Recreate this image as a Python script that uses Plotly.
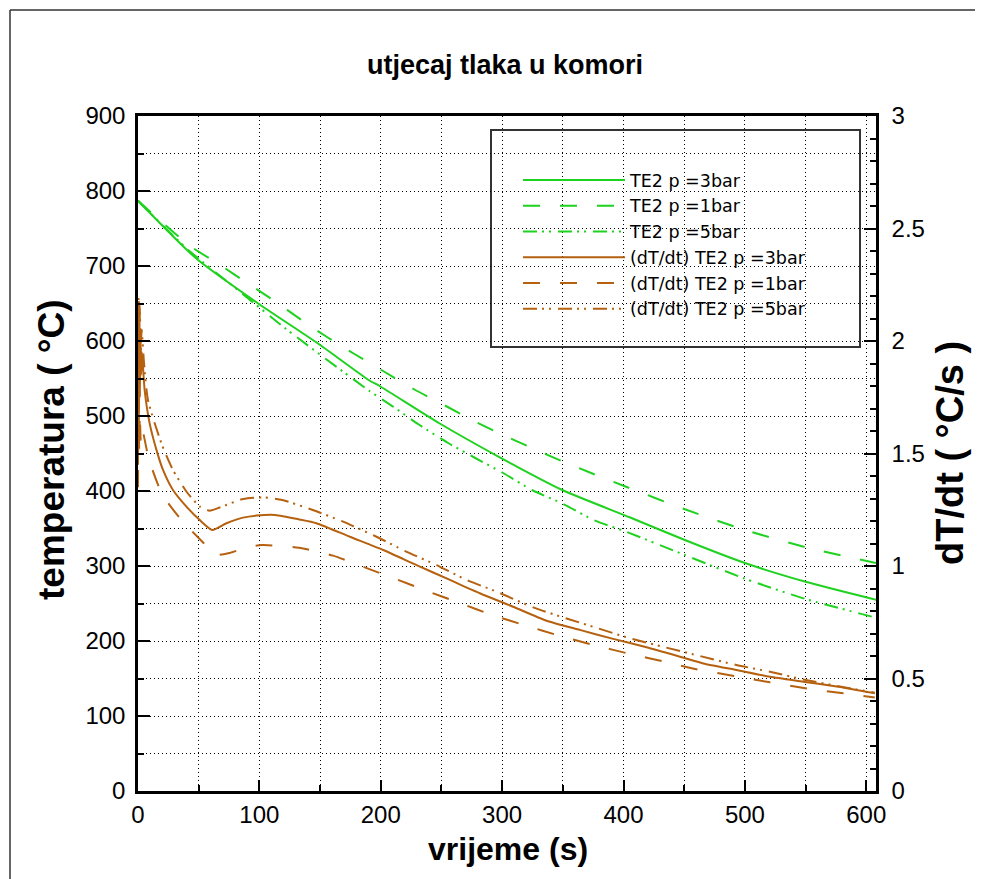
import plotly.graph_objects as go

# ---------------- data ----------------
# Temperature, TE2 (left axis, °C)
t_T3 = [0, 48, 99, 148, 191, 199, 248.6, 299.5, 350, 405, 450, 500, 550, 608]
T_3 = [787, 710, 650, 597, 547, 540, 490, 443.6, 401, 365, 335, 304, 279, 255]

t_T1 = [0, 20, 42.6, 68, 89.3, 111, 134.7, 156, 179, 204, 227, 251.7, 276, 299,
        323.6, 349, 374.8, 400, 450, 500, 550, 608]
T_1 = [787, 758, 727, 701, 678, 655, 628, 605, 582, 558, 536, 515, 494, 476,
       458, 440, 423, 407, 376, 348, 325, 304]

t_T5 = [0, 41, 83, 122.8, 169, 191, 210.7, 231, 255.5, 276.7, 300.8, 325, 350,
        375.8, 400, 450, 500, 550, 608]
T_5 = [787, 722, 667, 615, 559, 533, 512, 489, 464, 445, 424, 401, 383,
       361, 347, 315, 283, 256, 231]

# dT/dt, TE2 (right axis, °C/s)
t_D3 = [0, 0.4, 0.8, 1.2, 1.6, 2.0, 2.5, 3.2, 5.5, 9.6, 15.2, 20.6, 28.8, 39.9,
        50.9, 61.3, 72.9, 86.5, 97.6, 113, 133, 147, 174.5, 202, 229.5, 257,
        281.6, 309, 336.6, 364, 391.5, 419, 446.5, 465.7, 493, 520.6, 548,
        575.6, 607]
D_3 = [1.45, 2.1, 1.6, 2.17, 1.75, 2.05, 1.85, 1.95, 1.78, 1.634, 1.516, 1.427,
       1.338, 1.264, 1.204, 1.16, 1.19, 1.215, 1.224, 1.227, 1.207, 1.19, 1.13,
       1.071, 1.004, 0.938, 0.879, 0.819, 0.757, 0.716, 0.676, 0.639, 0.597,
       0.567, 0.538, 0.508, 0.486, 0.464, 0.434]

t_D1 = [0, 0.5, 1, 1.5, 2.2, 3, 8.8, 19.8, 35.8, 53, 64, 75.6, 88, 102, 132.5,
        160.7, 186.8, 213, 238.5, 265.7, 292, 319, 347.8, 376.7, 404.7, 433.8,
        460, 491.8, 520.6, 551, 581, 607]
D_1 = [1.35, 1.72, 1.5, 1.68, 1.56, 1.62, 1.479, 1.32, 1.204, 1.108, 1.05,
       1.058, 1.08, 1.093, 1.081, 1.046, 0.994, 0.941, 0.888, 0.834, 0.782,
       0.736, 0.689, 0.647, 0.61, 0.575, 0.541, 0.511, 0.483, 0.456, 0.434,
       0.416]

t_D5 = [0, 0.5, 1, 1.5, 2.2, 3, 5, 8.2, 19.3, 28.8, 40, 51, 59, 67.3, 86.7, 103,
        119, 144, 169, 196.5, 221, 246, 270.7, 295.4, 325.6, 350, 379, 405, 434,
        460, 493, 520.6, 548, 575.6, 607]
D_5 = [1.6, 2.2, 1.9, 2.15, 1.95, 2.05, 1.9, 1.738, 1.545, 1.427, 1.33, 1.264,
       1.246, 1.26, 1.298, 1.305, 1.293, 1.249, 1.197, 1.13, 1.064, 1.004,
       0.938, 0.886, 0.816, 0.772, 0.723, 0.679, 0.639, 0.604, 0.56, 0.53,
       0.496, 0.467, 0.437]

names = ["TE2 p =3bar", "TE2 p =1bar", "TE2 p =5bar",
         "(dT/dt) TE2 p =3bar", "(dT/dt) TE2 p =1bar", "(dT/dt) TE2 p =5bar"]

title = "utjecaj tlaka u komori"
x_title = "vrijeme (s)"
y_title = "temperatura ( °C)"
y2_title = "dT/dt ( °C/s )"

# ---------------- styles ----------------
GREEN = "#1fd21f"
BROWN = "#b5610f"
DASH = "17px,20px"
DASHDOT = "14px,5px,2px,5px,2px,7px"
FONT = "Arial, Liberation Sans, sans-serif"
LEGFONT = "DejaVu Sans, Arial, sans-serif"

fig = go.Figure()
series = [
    (t_T3, T_3, GREEN, "solid", "y"),
    (t_T1, T_1, GREEN, DASH, "y"),
    (t_T5, T_5, GREEN, DASHDOT, "y"),
    (t_D3, D_3, BROWN, "solid", "y2"),
    (t_D1, D_1, BROWN, DASH, "y2"),
    (t_D5, D_5, BROWN, DASHDOT, "y2"),
]
for (tx, ty, col, dash, ax), nm in zip(series, names):
    fig.add_trace(go.Scatter(x=tx, y=ty, mode="lines", name=nm, yaxis=ax,
                             line=dict(color=col, width=2, dash=dash, shape="spline",
                                       smoothing=0.6)))

# page body has an 8px margin: figure coords = screen coords - 8
OFF = 8
W, H = 975, 871
L = 138 - OFF
T = 116 - OFF
R = W - (876 - OFF)
B = H - (791 - OFF)
pw, ph = W - L - R, H - T - B


def px(sx):
    return (sx - OFF - L) / pw


def py(sy):
    return (H - B - (sy - OFF)) / ph


axis_common = dict(showline=True, linecolor="black", linewidth=2.5,
                   ticks="inside", tickcolor="black", tickwidth=2,
                   tickfont=dict(family=FONT, size=24, color="black"),
                   zeroline=False)

fig.update_layout(
    width=W, height=H,
    margin=dict(l=L, r=R, t=T, b=B),
    plot_bgcolor="white", paper_bgcolor="white",
    font=dict(family=FONT, color="black"),
    title=dict(text="<b>" + title + "</b>", x=(505 - OFF) / W, xanchor="center",
               y=1 - (65 - OFF) / H, yanchor="middle",
               font=dict(family=FONT, size=27, color="black")),
    xaxis=dict(range=[0, 608], dtick=100, ticklen=11, mirror=True,
               showgrid=True, gridcolor="black", gridwidth=1, griddash="1px,3px",
               minor=dict(dtick=50, ticklen=6, tickcolor="black", tickwidth=1.5,
                          ticks="inside", showgrid=True, gridcolor="black",
                          gridwidth=1, griddash="1px,3px"),
               ticklabelstandoff=0, **axis_common),
    yaxis=dict(range=[0, 900], dtick=100, ticklen=12,
               showgrid=True, gridcolor="black", gridwidth=1, griddash="1px,3px",
               minor=dict(dtick=50, ticklen=6, tickcolor="black", tickwidth=1.5,
                          ticks="inside", showgrid=True, gridcolor="black",
                          gridwidth=1, griddash="1px,3px"),
               ticklabelstandoff=5, **axis_common),
    yaxis2=dict(range=[0, 3], dtick=0.5, ticklen=12, overlaying="y", side="right",
                showgrid=False,
                minor=dict(dtick=0.1, ticklen=6, tickcolor="black", tickwidth=1.5,
                           ticks="inside"),
                ticklabelstandoff=8, **axis_common),
    showlegend=True,
    legend=dict(x=px(518), y=py(162), xanchor="left", yanchor="top",
                bgcolor="rgba(0,0,0,0)", borderwidth=0, itemwidth=102,
                font=dict(family=LEGFONT, size=17.5, color="black"),
                tracegroupgap=0),
)

# legend box
fig.add_shape(type="rect", xref="paper", yref="paper",
              x0=px(491), x1=px(860), y0=py(347), y1=py(130),
              line=dict(color="#333333", width=2), fillcolor="white", layer="below")
# outer frame (left and top edges; the others lie outside the picture)
fig.add_shape(type="line", xref="paper", yref="paper",
              x0=px(10), x1=px(10), y0=py(900), y1=py(10),
              line=dict(color="#333333", width=1.5), layer="below")
fig.add_shape(type="line", xref="paper", yref="paper",
              x0=px(10), x1=px(1010), y0=py(10), y1=py(10),
              line=dict(color="#333333", width=1.5), layer="below")

# axis titles
fig.add_annotation(text="<b>" + x_title + "</b>", xref="paper", yref="paper",
                   x=px(508), y=py(849), xanchor="center", yanchor="middle",
                   showarrow=False, font=dict(family=FONT, size=32, color="black"))
fig.add_annotation(text="<b>" + y_title + "</b>", xref="paper", yref="paper",
                   x=px(51), y=py(450), xanchor="center", yanchor="middle",
                   showarrow=False, textangle=-90,
                   font=dict(family=FONT, size=37, color="black"))
fig.add_annotation(text="<b>" + y2_title + "</b>", xref="paper", yref="paper",
                   x=px(950), y=py(453), xanchor="center", yanchor="middle",
                   showarrow=False, textangle=-90,
                   font=dict(family=FONT, size=38, color="black"))

fig.write_html("out.html",
               post_script="document.documentElement.style.overflow='hidden';"
                           "document.body.style.overflow='hidden';")
